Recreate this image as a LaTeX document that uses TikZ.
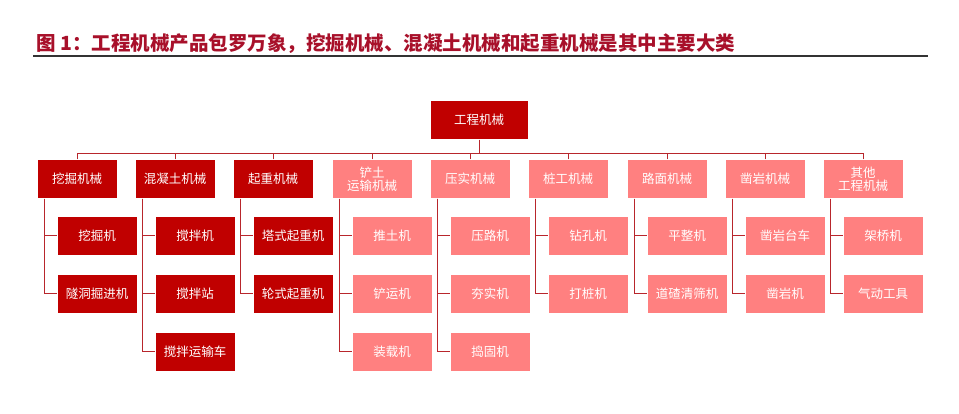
\documentclass[tikz,border=0pt]{standalone}
\usepackage{fontspec}
\newfontfamily\cjk{Noto Sans CJK SC}
\definecolor{deepred}{HTML}{C00000}
\definecolor{lightred}{HTML}{FF8080}
\definecolor{wirered}{HTML}{B8262C}
\definecolor{titlered}{HTML}{A8102A}
\tikzset{
  darkbox/.style={fill=deepred,draw=white,minimum width=80pt,minimum height=39pt,text=white,font=\cjk\fontsize{12.5}{13}\selectfont,align=center,inner sep=1pt},
  lightbox/.style={darkbox,fill=lightred},
  wire/.style={draw=wirered,line width=1pt}
}
\begin{document}
\begin{tikzpicture}[x=1pt,y=-1pt]%
\useasboundingbox (0,0) rectangle (959,413);%
% title
\node[anchor=west,text=titlered,font=\cjk\bfseries\fontsize{19.5}{21}\selectfont,inner sep=0pt] (title) at (36,44) {图 1：工程机械产品包罗万象，挖掘机械、混凝土机械和起重机械是其中主要大类};%
\draw[line width=1.5pt,black!80] (33,56) -- (928,56);%
% root
\node[darkbox,minimum width=98pt] (root) at (479,120) {工程机械};%
\coordinate (busL) at (77,153);%
\coordinate (busR) at (863,153);%
\draw[wire] (busL) -- (busR);%
\draw[wire] (root.south) -- (root.south |- busL);%
% categories: index / x / style / label
\foreach \i/\x/\st/\lab in {1/77/darkbox/挖掘机械,2/175/darkbox/混凝土机械,3/273/darkbox/起重机械,%
  4/372/lightbox/{铲土\\运输机械},5/470/lightbox/压实机械,6/568/lightbox/桩工机械,%
  7/667/lightbox/路面机械,8/765/lightbox/凿岩机械,9/863/lightbox/{其他\\工程机械}}{%
  \node[\st] (cat\i) at (\x,179) {\lab};%
  \draw[wire] (cat\i.north) -- (cat\i.north |- busL);%
}%
% children: category / row / label
\foreach \i/\st/\kids in {1/darkbox/{挖掘机,隧洞掘进机},2/darkbox/{搅拌机,搅拌站,搅拌运输车},3/darkbox/{塔式起重机,轮式起重机},%
  4/lightbox/{推土机,铲运机,装载机},5/lightbox/{压路机,夯实机,捣固机},6/lightbox/{钻孔机,打桩机},%
  7/lightbox/{平整机,道碴清筛机},8/lightbox/{凿岩台车,凿岩机},9/lightbox/{架桥机,气动工具}}{%
  \coordinate (top\i) at ([xshift=8pt]cat\i.south west);%
  \foreach \lab [count=\r] in \kids {%
    \node[\st] (kid\i-\r) at ([xshift=20pt,yshift={-(\r*58-21)*1pt}]cat\i.south) {\lab};%
    \draw[wire] (top\i) |- (kid\i-\r.west);%
  }%
}%
\end{tikzpicture}
\end{document}
